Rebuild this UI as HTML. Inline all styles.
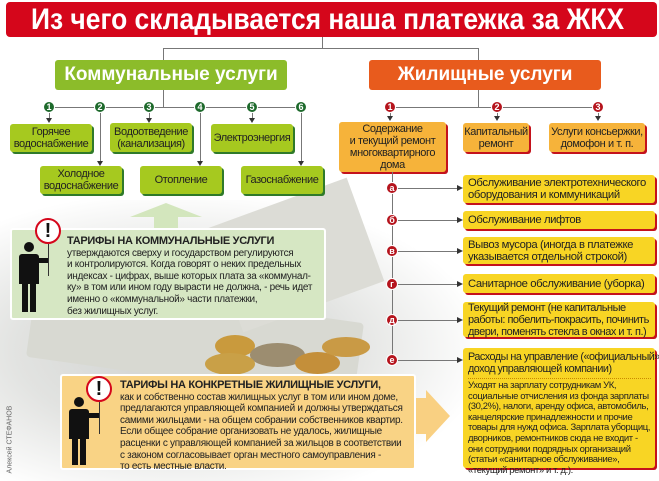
<!DOCTYPE html>
<html><head><meta charset="utf-8"><style>
*{margin:0;padding:0;box-sizing:border-box}
html{width:659px;height:481px;overflow:hidden}
body{width:659px;height:481px;position:relative;overflow:hidden;background:#fff;font-family:"Liberation Sans","DejaVu Sans",sans-serif}
.a{position:absolute}
.bx{position:absolute;display:flex;align-items:center;justify-content:center;text-align:center;font-size:11px;line-height:12px;letter-spacing:-0.4px;color:#222;border-radius:3px;white-space:nowrap}
.g{background:#a6c91f;box-shadow:2px 2px 0 #2f7a2a}
.o{background:#f6b33a;box-shadow:2px 2px 0 #c4121c}
.y{background:#f8d524;box-shadow:2px 2px 0 #c4121c;justify-content:flex-start;text-align:left;padding-left:5px}
.c{position:absolute;width:12px;height:12px;border-radius:50%;color:#fff;font-size:9px;font-weight:bold;line-height:11px;text-align:center;border:1px solid #fff}
.cg{background:#1e6a2c}.cr{background:#b5141d}
.h{position:absolute;height:1px;background:#777}
.v{position:absolute;width:1px;background:#777}
.ar{position:absolute;width:0;height:0;border-left:3px solid transparent;border-right:3px solid transparent;border-top:5px solid #333}
.arr{position:absolute;width:0;height:0;border-top:3px solid transparent;border-bottom:3px solid transparent;border-left:6px solid #333}
.note{font-size:10px;line-height:11.6px;letter-spacing:-0.3px;color:#222;white-space:nowrap}
</style></head><body>
<div class="a" style="left:0;top:200px;width:470px;height:281px;background:radial-gradient(ellipse at 180px 150px,#cfd1cf 0%,#e2e3e1 40%,rgba(255,255,255,0) 75%)"></div>
<div class="a" style="left:30px;top:300px;width:330px;height:80px;background:#d8d9d2;transform:rotate(8deg);border-radius:4px"></div>
<div class="a" style="left:220px;top:200px;width:150px;height:110px;background:#dcdcd6;transform:rotate(-20deg)"></div>
<div class="a" style="left:215px;top:335px;width:40px;height:22px;border-radius:50%;background:#c99a3d"></div>
<div class="a" style="left:250px;top:343px;width:55px;height:24px;border-radius:50%;background:#9c8d70"></div>
<div class="a" style="left:205px;top:353px;width:50px;height:22px;border-radius:50%;background:#c9a047"></div>
<div class="a" style="left:295px;top:352px;width:45px;height:22px;border-radius:50%;background:#c48f3a"></div>
<div class="a" style="left:322px;top:337px;width:48px;height:20px;border-radius:50%;background:#c99a45"></div>

<div class="a" style="left:6px;top:2px;width:651px;height:35px;background:#d5061b;border-radius:4px"></div>
<div class="a" style="left:31px;top:3px;width:640px;height:34px;color:#fff;font-weight:bold;font-size:30px;line-height:34px;white-space:nowrap;transform:scaleX(0.88);transform-origin:left">Из чего складывается наша платежка за ЖКХ</div>

<div class="v" style="left:322px;top:37px;height:12px"></div>
<div class="h" style="left:163px;top:48px;width:316px"></div>
<div class="v" style="left:163px;top:48px;height:12px"></div>
<div class="v" style="left:478px;top:48px;height:12px"></div>

<div class="bx" style="left:55px;top:60px;width:232px;height:30px;background:#8cbc2a;color:#fff;font-weight:bold;font-size:19px;letter-spacing:0">Коммунальные услуги</div>
<div class="bx" style="left:369px;top:60px;width:232px;height:30px;background:#e85b1d;color:#fff;font-weight:bold;font-size:19px;letter-spacing:0">Жилищные услуги</div>

<div class="v" style="left:163px;top:90px;height:17px"></div>
<div class="h" style="left:49px;top:107px;width:253px"></div>
<div class="v" style="left:49px;top:107px;height:14px"></div><div class="ar" style="left:46px;top:118px"></div>
<div class="v" style="left:100px;top:107px;height:56px"></div><div class="ar" style="left:97px;top:161px"></div>
<div class="v" style="left:149px;top:107px;height:14px"></div><div class="ar" style="left:146px;top:118px"></div>
<div class="v" style="left:200px;top:107px;height:56px"></div><div class="ar" style="left:197px;top:161px"></div>
<div class="v" style="left:252px;top:107px;height:14px"></div><div class="ar" style="left:249px;top:118px"></div>
<div class="v" style="left:301px;top:107px;height:56px"></div><div class="ar" style="left:298px;top:161px"></div>
<div class="c cg" style="left:43px;top:101px">1</div>
<div class="c cg" style="left:94px;top:101px">2</div>
<div class="c cg" style="left:143px;top:101px">3</div>
<div class="c cg" style="left:194px;top:101px">4</div>
<div class="c cg" style="left:246px;top:101px">5</div>
<div class="c cg" style="left:295px;top:101px">6</div>
<div class="bx g" style="left:10px;top:124px;width:82px;height:28px">Горячее<br>водоснабжение</div>
<div class="bx g" style="left:110px;top:123px;width:82px;height:29px">Водоотведение<br>(канализация)</div>
<div class="bx g" style="left:211px;top:124px;width:82px;height:28px">Электроэнергия</div>
<div class="bx g" style="left:40px;top:166px;width:82px;height:28px">Холодное<br>водоснабжение</div>
<div class="bx g" style="left:140px;top:166px;width:82px;height:28px">Отопление</div>
<div class="bx g" style="left:241px;top:166px;width:82px;height:28px">Газоснабжение</div>

<div class="v" style="left:478px;top:90px;height:17px"></div>
<div class="h" style="left:390px;top:107px;width:209px"></div>
<div class="v" style="left:390px;top:107px;height:12px"></div><div class="ar" style="left:387px;top:116px"></div>
<div class="v" style="left:497px;top:107px;height:12px"></div><div class="ar" style="left:494px;top:116px"></div>
<div class="v" style="left:598px;top:107px;height:12px"></div><div class="ar" style="left:595px;top:116px"></div>
<div class="c cr" style="left:384px;top:101px">1</div>
<div class="c cr" style="left:491px;top:101px">2</div>
<div class="c cr" style="left:592px;top:101px">3</div>
<div class="bx o" style="left:339px;top:122px;width:107px;height:50px">Содержание<br>и текущий ремонт<br>многоквартирного<br>дома</div>
<div class="bx o" style="left:463px;top:123px;width:66px;height:29px">Капитальный<br>ремонт</div>
<div class="bx o" style="left:549px;top:123px;width:96px;height:29px">Услуги консьержки,<br>домофон и т. п.</div>

<div class="v" style="left:392px;top:172px;height:189px"></div>
<div class="h" style="left:392px;top:188px;width:66px"></div><div class="arr" style="left:457px;top:185px"></div>
<div class="h" style="left:392px;top:220px;width:66px"></div><div class="arr" style="left:457px;top:217px"></div>
<div class="h" style="left:392px;top:251px;width:66px"></div><div class="arr" style="left:457px;top:248px"></div>
<div class="h" style="left:392px;top:284px;width:66px"></div><div class="arr" style="left:457px;top:281px"></div>
<div class="h" style="left:392px;top:320px;width:66px"></div><div class="arr" style="left:457px;top:317px"></div>
<div class="h" style="left:392px;top:360px;width:66px"></div><div class="arr" style="left:457px;top:357px"></div>
<div class="c cr" style="left:386px;top:182px">а</div>
<div class="c cr" style="left:386px;top:214px">б</div>
<div class="c cr" style="left:386px;top:245px">в</div>
<div class="c cr" style="left:386px;top:278px">г</div>
<div class="c cr" style="left:386px;top:314px">д</div>
<div class="c cr" style="left:386px;top:354px">е</div>

<div class="bx y" style="left:463px;top:175px;width:192px;height:28px;font-size:11.3px">Обслуживание электротехнического<br>оборудования и коммуникаций</div>
<div class="bx y" style="left:463px;top:211px;width:192px;height:18px;font-size:11.3px">Обслуживание лифтов</div>
<div class="bx y" style="left:463px;top:237px;width:192px;height:27px;font-size:11.3px">Вывоз мусора (иногда в платежке<br>указывается отдельной строкой)</div>
<div class="bx y" style="left:463px;top:274px;width:192px;height:19px;font-size:11.3px">Санитарное обслуживание (уборка)</div>
<div class="bx y" style="left:463px;top:302px;width:192px;height:35px;letter-spacing:-0.5px">Текущий ремонт (не капитальные<br>работы: побелить-покрасить, починить<br>двери, поменять стекла в окнах и т. п.)</div>
<div class="a y" style="left:463px;top:348px;width:192px;height:120px;border-radius:3px;font-size:10.8px;line-height:12px;letter-spacing:-0.5px;padding-top:3px;color:#222;white-space:nowrap">Расходы на управление («официальный»<br>доход управляющей компании)
<div style="border-top:1px dotted #c98a00;margin:3px 4px 2px 0"></div>
<div style="font-size:9.5px;line-height:10.6px;letter-spacing:-0.4px">Уходят на зарплату сотрудникам УК,<br>социальные отчисления из фонда зарплаты<br>(30,2%), налоги, аренду офиса, автомобиль,<br>канцелярские принадлежности и прочие<br>товары для нужд офиса. Зарплата уборщиц,<br>дворников, ремонтников сюда не входит -<br>они сотрудники подрядных организаций<br>(статьи «санитарное обслуживание»,<br>«текущий ремонт» и т. д.).</div></div>

<div class="a" style="left:130px;top:203px;width:0;height:0;border-left:36px solid transparent;border-right:36px solid transparent;border-bottom:14px solid #d3e6bd"></div>
<div class="a" style="left:154px;top:216px;width:24px;height:14px;background:#d3e6bd"></div>
<div class="a" style="left:10px;top:228px;width:316px;height:92px;background:#d6e7c3;border:2px solid #fff;border-radius:3px"></div>
<div class="a note" style="left:67px;top:236px"><b style="font-size:11px">ТАРИФЫ НА КОММУНАЛЬНЫЕ УСЛУГИ</b><br>утверждаются сверху и государством регулируются<br>и контролируются. Когда говорят о неких предельных<br>индексах - цифрах, выше которых плата за «коммунал-<br>ку» в том или ином году вырасти не должна, - речь идет<br>именно о «коммунальной» части платежки,<br>без жилищных услуг.</div>
<div class="a" style="left:35px;top:218px;width:26px;height:26px;border-radius:50%;background:#fff;border:2px solid #d5061b;color:#111;font-weight:bold;font-size:20px;line-height:22px;text-align:center">!</div>
<div class="v" style="left:48px;top:244px;height:32px;background:#333"></div>
<div class="a" style="left:24px;top:242px;width:10px;height:10px;border-radius:50%;background:#111"></div>
<div class="a" style="left:19px;top:254px;width:20px;height:30px;background:#111;border-radius:3px 3px 0 0"></div>
<div class="a" style="left:22px;top:284px;width:6px;height:28px;background:#111"></div>
<div class="a" style="left:30px;top:284px;width:6px;height:28px;background:#111"></div>
<div class="a" style="left:36px;top:258px;width:12px;height:5px;background:#111"></div>

<div class="a" style="left:414px;top:398px;width:12px;height:36px;background:#f9d082"></div>
<div class="a" style="left:426px;top:390px;width:0;height:0;border-top:26px solid transparent;border-bottom:26px solid transparent;border-left:24px solid #f9d082"></div>
<div class="a" style="left:60px;top:374px;width:356px;height:96px;background:#f9d385;border:2px solid #fff;border-radius:3px"></div>
<div class="a note" style="left:120px;top:380px"><b style="font-size:11px">ТАРИФЫ НА КОНКРЕТНЫЕ ЖИЛИЩНЫЕ УСЛУГИ,</b><br>как и собственно состав жилищных услуг в том или ином доме,<br>предлагаются управляющей компанией и должны утверждаться<br>самими жильцами - на общем собрании собственников квартир.<br>Если общее собрание организовать не удалось, жилищные<br>расценки с управляющей компанией за жильцов в соответствии<br>с законом согласовывает орган местного самоуправления -<br>то есть местные власти.</div>
<div class="a" style="left:86px;top:376px;width:26px;height:26px;border-radius:50%;background:#fff;border:2px solid #d5061b;color:#111;font-weight:bold;font-size:20px;line-height:22px;text-align:center">!</div>
<div class="v" style="left:99px;top:402px;height:32px;background:#333"></div>
<div class="a" style="left:74px;top:397px;width:10px;height:10px;border-radius:50%;background:#111"></div>
<div class="a" style="left:69px;top:409px;width:20px;height:30px;background:#111;border-radius:3px 3px 0 0"></div>
<div class="a" style="left:72px;top:439px;width:6px;height:26px;background:#111"></div>
<div class="a" style="left:80px;top:439px;width:6px;height:26px;background:#111"></div>
<div class="a" style="left:86px;top:413px;width:13px;height:5px;background:#111"></div>

<div class="a" style="left:-35px;top:425px;width:90px;font-size:7px;color:#666;transform:rotate(-90deg);white-space:nowrap">Алексей СТЕФАНОВ</div>
</body></html>
